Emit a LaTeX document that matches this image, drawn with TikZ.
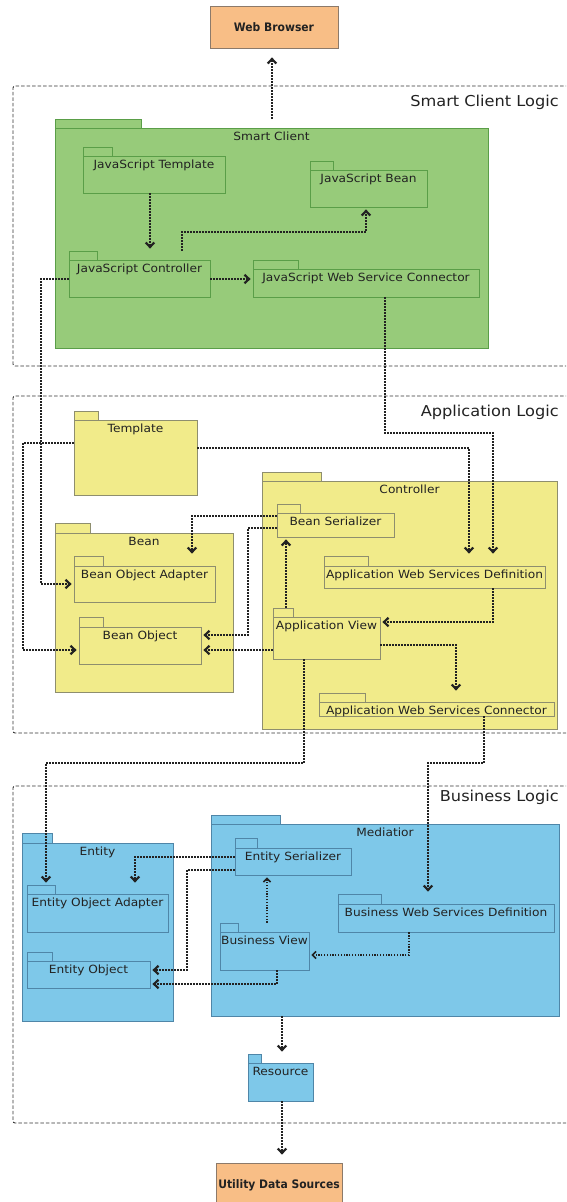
\documentclass[tikz,border=0pt]{standalone}
\usepackage{fontspec}
\setmainfont{DejaVu Sans}[FakeStretch=1.08]
\newfontfamily\headfont{DejaVu Sans}[FakeStretch=0.92]
\usetikzlibrary{arrows.meta,fit}

\definecolor{ink}{HTML}{222222}
\definecolor{greenfill}{HTML}{97CB7A}
\definecolor{greenline}{HTML}{5A9E48}
\definecolor{yellowfill}{HTML}{F1EB8A}
\definecolor{yellowline}{HTML}{8E8E6E}
\definecolor{bluefill}{HTML}{7EC8E9}
\definecolor{blueline}{HTML}{4F86A8}
\definecolor{orangefill}{HTML}{F8BE86}
\definecolor{orangeline}{HTML}{8C7A6A}
\definecolor{regionline}{HTML}{333333}

\tikzset{
  pkgbase/.style={draw, inner sep=0pt, line width=0.8pt},
  greenpkg/.style={pkgbase, fill=greenfill, draw=greenline},
  yellowpkg/.style={pkgbase, fill=yellowfill, draw=yellowline},
  bluepkg/.style={pkgbase, fill=bluefill, draw=blueline},
  pkgtext/.style={font=\fontsize{11.3}{13}\selectfont, text=ink, inner sep=0pt},
  extbox/.style={draw=orangeline, fill=orangefill, line width=0.8pt, inner sep=0pt,
    font=\headfont\bfseries\fontsize{11.7}{14}\selectfont, text=ink},
  region/.style={draw=regionline, line width=0.9pt, dash pattern=on 3.5pt off 2pt, rounded corners=2pt},
  regiontext/.style={font=\fontsize{15}{18}\selectfont, text=ink, inner sep=0pt, anchor=east},
  dep/.style={draw=ink, line width=1.7pt, dash pattern=on 1.6pt off 1.4pt,
    -{Straight Barb[length=4.5pt,width=8.5pt,line width=2.2pt]}, shorten >=2pt},
  lightdep/.style={dep, line width=1.2pt, dash pattern=on 1.3pt off 1.5pt,
    -{Straight Barb[length=3.5pt,width=7pt,line width=1.6pt]}},
}

% package: style, name, left, tab right, tab top, body top, right, bottom, label
\newcommand{\pkg}[9]{%
  \node[#1, fit={(#3,#5) (#4,#6)}] (#2-tab) {};
  \node[#1, fit={(#3,#6) (#7,#8)}] (#2) {};
  \node[pkgtext, anchor=base] (#2-label) at ([yshift=-13pt]#2.north) {#9};
}

\begin{document}
\begin{tikzpicture}[x=1pt,y=-1pt]
\useasboundingbox (0,0) rectangle (566,1202);
\clip (0,0) rectangle (566,1202);

% layer regions
\draw[region] (580,86) -- (13,86) -- (13,366) -- (580,366);
\draw[region] (580,396) -- (13,396) -- (13,733) -- (580,733);
\draw[region] (580,786) -- (13,786) -- (13,1123) -- (580,1123);
\node[regiontext] (scl) at (559,102) {Smart Client Logic};
\node[regiontext] (apl) at (559,412) {Application Logic};
\node[regiontext] (bul) at (559,797) {Business Logic};

% external systems
\node[extbox, minimum width=128pt, minimum height=42pt] (browser) at (274,27) {Web Browser};
\node[extbox, minimum width=126pt, minimum height=44pt] (uds) at (279,1185) {Utility Data Sources};

% smart client
\pkg{greenpkg}{sc}{55}{141}{119}{128}{488}{348}{Smart Client}
\pkg{greenpkg}{jstpl}{83}{112}{147}{156}{225}{193}{JavaScript Template}
\pkg{greenpkg}{jsbean}{310}{333}{161}{170}{427}{207}{JavaScript Bean}
\pkg{greenpkg}{jsctrl}{69}{97}{251}{260}{210}{297}{JavaScript Controller}
\pkg{greenpkg}{jswsc}{253}{298}{260}{269}{479}{297}{JavaScript Web Service Connector}

% application logic
\pkg{yellowpkg}{tpl}{74}{98}{411}{420}{197}{495}{Template}
\pkg{yellowpkg}{ctrl}{262}{321}{472}{481}{557}{729}{Controller}
\pkg{yellowpkg}{bean}{55}{90}{523}{533}{233}{692}{Bean}
\pkg{yellowpkg}{boa}{74}{103}{556}{566}{215}{602}{Bean Object Adapter}
\pkg{yellowpkg}{bo}{79}{103}{617}{627}{201}{664}{Bean Object}
\pkg{yellowpkg}{bser}{277}{300}{504}{513}{394}{537}{Bean Serializer}
\pkg{yellowpkg}{awsd}{324}{368}{556}{566}{545}{588}{Application Web Services Definition}
\pkg{yellowpkg}{aview}{273}{293}{608}{617}{380}{659}{Application View}
\pkg{yellowpkg}{awsc}{319}{365}{693}{702}{554}{716}{Application Web Services Connector}

% business logic
\pkg{bluepkg}{med}{211}{280}{815}{824}{559}{1016}{Mediatior}
\pkg{bluepkg}{ent}{22}{52}{833}{843}{173}{1021}{Entity}
\pkg{bluepkg}{eser}{235}{257}{838}{848}{351}{875}{Entity Serializer}
\pkg{bluepkg}{eoa}{27}{55}{885}{894}{168}{932}{Entity Object Adapter}
\pkg{bluepkg}{bwsd}{338}{381}{894}{904}{554}{932}{Business Web Services Definition}
\pkg{bluepkg}{bview}{220}{238}{923}{932}{309}{970}{Business View}
\pkg{bluepkg}{eo}{27}{52}{952}{961}{150}{988}{Entity Object}
\pkg{bluepkg}{res}{248}{261}{1054}{1063}{313}{1101}{Resource}

% dependencies: smart client
\draw[dep, shorten >=9pt] (272,0 |- sc-tab.north) -- (272,0 |- browser.south);
\draw[dep] (150,0 |- jstpl.south) -- (150,0 |- jsctrl-tab.north);
\draw[dep] (182,0 |- jsctrl-tab.north) -- (182,232) -- (366,232) -- (366,0 |- jsbean.south);
\draw[dep] (jsctrl.east |- 0,279) -- (jswsc.west |- 0,279);
\draw[dep] (jsctrl.west |- 0,279) -- (41,279) -- (41,584) -- (boa.west |- 0,584);
\draw[dep] (385,0 |- jswsc.south) -- (385,433) -- (493,433) -- (493,0 |- awsd-tab.north);

% dependencies: application logic
\draw[dep] (tpl.west |- 0,443) -- (23,443) -- (23,650) -- (bo.west |- 0,650);
\draw[dep] (tpl.east |- 0,448) -- (469,448) -- (469,0 |- awsd-tab.north);
\draw[dep] (bser.west |- 0,516) -- (192,516) -- (192,0 |- boa-tab.north);
\draw[dep] (bser.west |- 0,528) -- (248,528) -- (248,635) -- (bo.east |- 0,635);
\draw[dep] (aview.west |- 0,650) -- (bo.east |- 0,650);
\draw[dep] (286,0 |- aview-tab.north) -- (286,0 |- bser.south);
\draw[dep] (493,0 |- awsd.south) -- (493,622) -- (aview.east |- 0,622);
\draw[dep] (aview.east |- 0,645) -- (456,645) -- (456,0 |- awsc-tab.north);
\draw[dep] (304,0 |- aview.south) -- (304,763) -- (46,763) -- (46,0 |- eoa-tab.north);
\draw[dep] (484,0 |- awsc.south) -- (484,763) -- (428,763) -- (428,0 |- bwsd-tab.north);

% dependencies: business logic
\draw[dep] (eser.west |- 0,857) -- (135,857) -- (135,0 |- eoa-tab.north);
\draw[dep] (eser.west |- 0,870) -- (187,870) -- (187,970) -- (eo.east |- 0,970);
\draw[lightdep] (267,0 |- bview-tab.north) -- (267,0 |- eser.south);
\draw[lightdep] (409,0 |- bwsd.south) -- (409,955) -- (bview.east |- 0,955);
\draw[dep] (277,0 |- bview.south) -- (277,984) -- (eo.east |- 0,984);
\draw[dep] (282,0 |- med.south) -- (282,0 |- res-tab.north);
\draw[dep, shorten >=8pt] (282,0 |- res.south) -- (282,0 |- uds.north);
\end{tikzpicture}
\end{document}
